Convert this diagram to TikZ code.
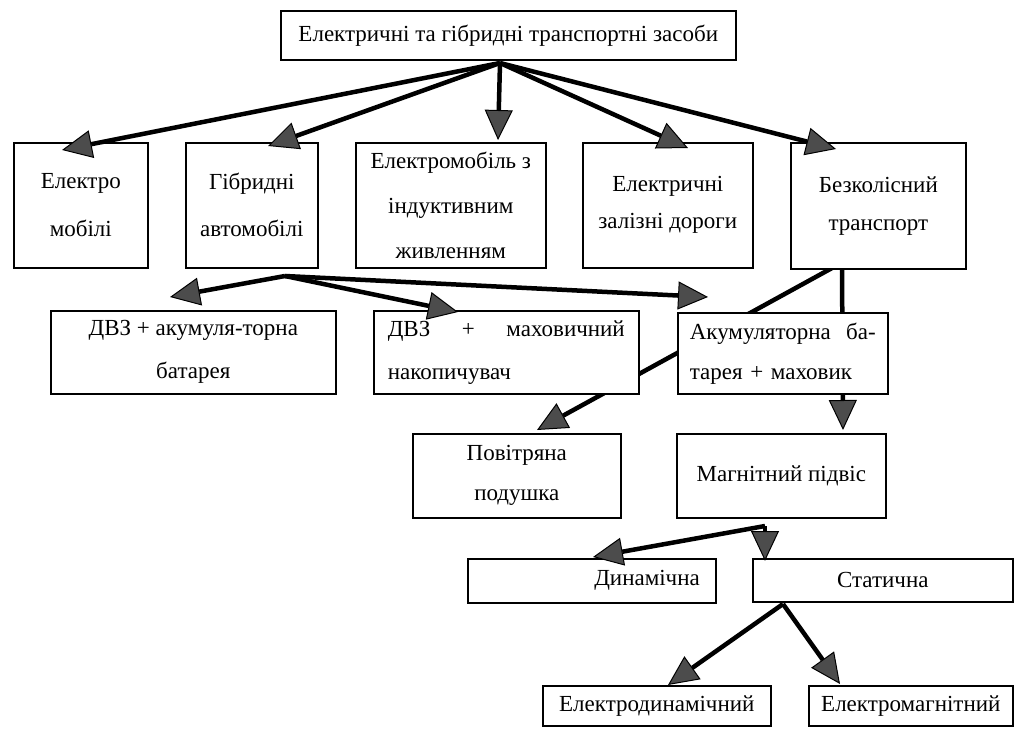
\documentclass[tikz,border=0pt]{standalone}
\usepackage{fontspec}
\setmainfont{Liberation Serif}
\usetikzlibrary{arrows.meta}
\pgfdeclarelayer{background}
\pgfdeclarelayer{paper}
\pgfsetlayers{paper,background,main}
\tikzset{
  box/.style={draw=black, line width=1.6pt, fill=white, inner sep=0pt, anchor=north west, align=center},
  conn/.style={line width=4.5pt, draw=black, -{Triangle[length=30pt,width=28pt,line width=1pt,fill=black!70]}},
}
\newcommand\fz[1]{\fontsize{23}{#1}\selectfont}
\begin{document}
\begin{tikzpicture}[x=1pt,y=-1pt]
\begin{pgfonlayer}{paper}
\fill[white] (0,0) rectangle (1017,728);
\end{pgfonlayer}
\useasboundingbox (0,0) rectangle (1017,728);

% boxes
\node[box, minimum width=455pt, minimum height=49pt, font=\fz{26}] (top) at (280,10) {Електричні та гібридні транспортні засоби};

\node[box, minimum width=134pt, minimum height=125pt, font=\fz{48}] (b1) at (13,142) {Електро\\мобілі};
\node[box, minimum width=132pt, minimum height=125pt, font=\fz{47}] (b2) at (185,142) {Гібридні\\автомобілі};
\node[box, minimum width=190pt, minimum height=125pt, font=\fz{45}] (b3) at (355,142) {Електромобіль з\\індуктивним\\живленням};
\node[box, minimum width=170pt, minimum height=125pt, font=\fz{37}] (b4) at (582,142) {Електричні\\залізні дороги};
\node[box, minimum width=175pt, minimum height=126pt, font=\fz{38}] (b5) at (790,142) {Безколісний\\транспорт};

\node[box, minimum width=285pt, minimum height=83pt, font=\fz{43}] (c1) at (50,310) {ДВЗ + акумуля-торна\\батарея};
\node[box, minimum width=265pt, minimum height=83pt, inner xsep=14pt, text width=237pt, align=left, font=\fz{43}] (c2) at (373,310) {\hbox to 237pt{ДВЗ\hfill+\hfill маховичний}\\накопичувач};
\node[box, minimum width=210pt, minimum height=81pt, inner xsep=12pt, text width=186pt, align=left, font=\fz{40}] (c3) at (677,312) {\hbox to 186pt{Акумуляторна\hfill ба-}\\тарея + маховик};

\node[box, minimum width=208pt, minimum height=84pt, font=\fz{40}] (d1) at (412,433) {Повітряна\\подушка};
\node[box, minimum width=209pt, minimum height=84pt, font=\fz{40}] (d2) at (676,433) {Магнітний підвіс};

\node[box, minimum width=248pt, minimum height=44pt, inner xsep=16pt, text width=216pt, align=right, font=\fz{26}] (e1) at (467,558) {Динамічна};
\node[box, minimum width=260pt, minimum height=43pt, font=\fz{26}] (e2) at (752,558) {Статична};

\node[box, minimum width=228pt, minimum height=40pt, font=\fz{26}] (f1) at (542,685) {Електродинамічний};
\node[box, minimum width=204pt, minimum height=40pt, font=\fz{26}] (f2) at (808,685) {Електромагнітний};

% hubs and tips
\coordinate (h1) at (500,63);
\coordinate (t1) at (62,150);
\coordinate (t2) at (268,146);
\coordinate (t3) at (498,140);
\coordinate (t4) at (688,148);
\coordinate (t5) at (836,149);

\coordinate (h2) at (285,276);
\coordinate (t6) at (170,297);
\coordinate (t7) at (458,312);
\coordinate (t8) at (708,297);

\coordinate (h3a) at (843,262);
\coordinate (h3b) at (842,268);
\coordinate (t9) at (537,430);
\coordinate (t10) at (843,430);

\coordinate (h4) at (765,526);
\coordinate (t11) at (593,557);
\coordinate (t12) at (765,561);

\coordinate (h5) at (783,604);
\coordinate (t13) at (668,685);
\coordinate (t14) at (840,684);

% connectors behind the battery box
\begin{pgfonlayer}{background}
\draw[conn] (h3a) -- (t9);
\draw[conn] (h3b) -- (t10);
\end{pgfonlayer}

\draw[conn] (h1) -- (t1);
\draw[conn] (h1) -- (t2);
\draw[conn] (h1) -- (t3);
\draw[conn] (h1) -- (t4);
\draw[conn] (h1) -- (t5);

\draw[conn] (h2) -- (t6);
\draw[conn] (h2) -- (t7);
\draw[conn] (h2) -- (t8);

\draw[conn] (h4) -- (t11);
\draw[conn] (h4) -- (t12);

\draw[conn] (h5) -- (t13);
\draw[conn] (h5) -- (t14);
\end{tikzpicture}
\end{document}
